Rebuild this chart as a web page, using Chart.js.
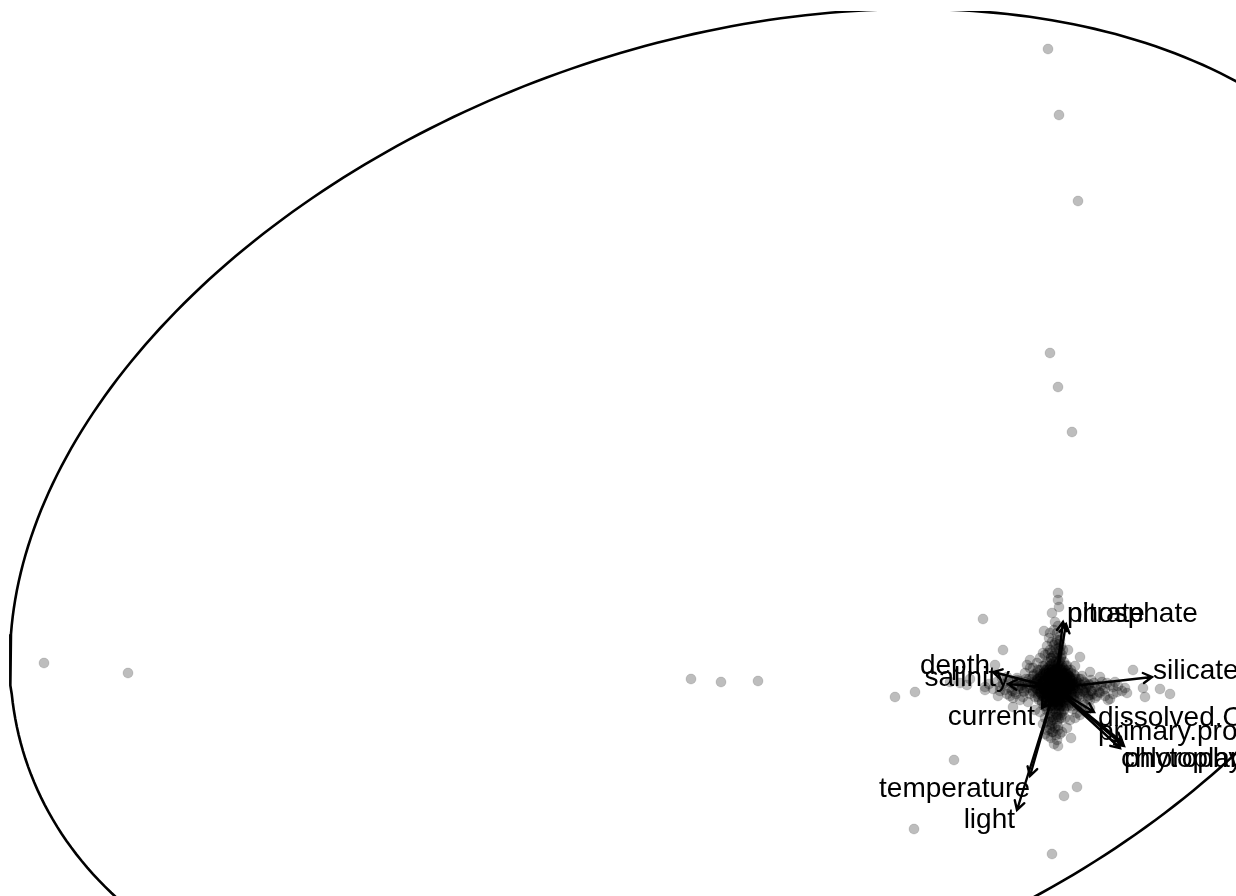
<!DOCTYPE html>
<html>
<head>
<meta charset="utf-8">
<script src="https://cdn.jsdelivr.net/npm/chart.js@4/dist/chart.umd.min.js"></script>
<style>
  html, body { margin: 0; padding: 0; background: #ffffff; }
  canvas { display: block; }
</style>
</head>
<body>
<canvas id="biplot" width="1236" height="896"></canvas>
<script>
// Visible window of the PC1 / PC2 plane
const axisPC1 = [-10.55, 1.81];
const axisPC2 = [-2.08, 6.77];

// Station scores away from the centre [PC1, PC2]
const scoresOuter = [
  [-10.11, 0.25], [-9.27, 0.15], [-3.64, 0.09], [-3.34, 0.06], [-2.97, 0.07],
  [-0.07, 6.39], [0.04, 5.73], [0.23, 4.87], [-0.05, 3.35], [0.03, 3.01], [0.17, 2.56],
  [-0.72, 0.69], [-0.52, 0.38], [-1.60, -0.09], [-1.40, -0.04], [-1.01, -0.72],
  [-1.41, -1.41], [0.09, -1.08], [0.22, -0.99], [-0.03, -1.66],
  [0.78, 0.18], [1.05, -0.01], [1.15, -0.06], [0.90, -0.09], [0.88, 0.00],
  [0.62, -0.04], [0.72, -0.05], [0.58, 0.01],
  [0.03, 0.95], [0.03, 0.88], [0.04, 0.81], [-0.03, 0.75], [-0.11, 0.57], [0.05, 0.48],
  [-0.95, 0.05], [-0.88, 0.03], [-1.05, 0.06], [-0.85, 0.09], [-0.55, 0.01], [-0.57, -0.08],
  [-0.42, -0.19], [-0.35, -0.12], [-0.28, 0.23], [-0.25, 0.20], [-0.12, 0.35], [-0.38, 0.08],
  [-0.48, 0.11], [-0.60, 0.23], [0.35, 0.16], [0.45, 0.11], [0.16, -0.50], [-0.02, -0.44],
  [0.15, -0.32], [-0.15, -0.24], [0.35, -0.12], [0.45, -0.05], [-0.70, -0.02], [0.25, 0.31],
  [0.53, -0.12]
];

// Station scores along the four arms of the central cluster
const scoresArms = [
  [0.30, -0.02], [0.34, 0.04], [0.38, -0.06], [0.42, 0.02], [0.48, -0.03], [0.52, 0.05],
  [0.40, -0.10], [0.33, -0.08],
  [-0.35, 0.02], [-0.40, -0.04], [-0.44, 0.05], [-0.50, -0.02], [-0.38, 0.10], [-0.32, -0.09],
  [-0.03, 0.36], [0.04, 0.40], [0.00, 0.45], [-0.06, 0.50], [0.02, 0.55], [0.07, 0.33], [-0.08, 0.42],
  [-0.04, -0.34], [0.03, -0.38], [-0.08, -0.42], [0.06, -0.30], [0.01, -0.47], [-0.12, -0.36], [0.12, -0.40],
  [0.27, 0.12], [0.20, 0.22], [-0.22, 0.20], [-0.30, 0.15], [0.28, -0.15], [0.22, -0.25],
  [-0.20, -0.22], [-0.27, -0.14], [0.36, 0.08], [-0.42, -0.10], [0.13, 0.38], [-0.15, 0.30],
  [0.10, -0.30], [-0.10, -0.30],
  [-0.02, 0.32], [0.03, 0.34], [-0.05, 0.38], [0.01, 0.39], [0.05, 0.37], [-0.01, 0.43],
  [0.04, 0.44], [-0.04, 0.30], [0.06, 0.31], [0.00, 0.35],
  [-0.34, 0.05], [-0.37, -0.01], [-0.41, 0.03], [-0.36, 0.07], [-0.45, 0.00], [-0.31, -0.04],
  [-0.29, 0.09], [-0.39, -0.06], [-0.33, 0.00], [-0.43, -0.03],
  [0.32, 0.02], [0.36, -0.03], [0.40, 0.01], [0.35, -0.07], [0.44, -0.04], [0.31, -0.05],
  [0.39, 0.05], [0.46, 0.02], [0.33, -0.11], [0.42, -0.08],
  [-0.02, -0.32], [0.02, -0.35], [-0.05, -0.37], [0.00, -0.40], [-0.06, -0.31], [0.04, -0.31],
  [-0.03, -0.44], [0.03, -0.42], [-0.07, -0.34], [0.01, -0.29],
  [0.22, -0.18], [0.26, -0.20], [0.18, -0.21], [0.30, -0.17],
  [0.02, 0.48], [-0.03, 0.46], [0.05, 0.52], [-0.01, 0.58], [0.03, 0.62], [-0.05, 0.55],
  [0.00, 0.66], [0.06, 0.42], [-0.07, 0.35], [0.08, 0.38],
  [-0.52, 0.04], [-0.55, -0.03], [-0.47, 0.07], [-0.58, 0.06], [-0.62, -0.01], [-0.48, -0.06],
  [-0.66, 0.04], [-0.53, 0.10], [-0.70, 0.01], [-0.45, -0.08],
  [0.50, -0.01], [0.55, 0.03], [0.58, -0.06], [0.50, -0.08], [0.63, 0.02], [0.67, -0.03],
  [0.55, -0.11], [0.70, 0.00], [0.47, 0.06], [0.60, 0.06],
  [-0.04, -0.50], [0.02, -0.52], [-0.07, -0.48], [0.05, -0.46], [-0.01, -0.56], [-0.05, -0.41],
  [0.07, -0.44], [-0.10, -0.46], [0.03, -0.58], [-0.03, -0.38],
  [0.25, -0.27], [0.31, -0.24], [0.20, -0.30], [0.35, -0.20],
  [-0.18, 0.25], [-0.25, 0.28], [-0.10, 0.33]
];

// Station scores in the dense centre
const scoresCore = [
  [-0.04, 0.30], [0.02, 0.30], [0.06, 0.30],
  [-0.08, 0.26], [-0.01, 0.26], [0.04, 0.26], [0.09, 0.26],
  [-0.12, 0.22], [-0.05, 0.22], [0.00, 0.22], [0.05, 0.22], [0.11, 0.22],
  [-0.15, 0.18], [-0.09, 0.18], [-0.03, 0.18], [0.02, 0.18], [0.07, 0.18], [0.13, 0.18],
  [-0.18, 0.15], [-0.11, 0.15], [-0.06, 0.15], [0.00, 0.15], [0.04, 0.15], [0.10, 0.15], [0.16, 0.15],
  [-0.22, 0.12], [-0.14, 0.12], [-0.08, 0.12], [-0.02, 0.12], [0.03, 0.12], [0.08, 0.12], [0.14, 0.12], [0.20, 0.12],
  [-0.26, 0.09], [-0.17, 0.09], [-0.10, 0.09], [-0.04, 0.09], [0.01, 0.09], [0.06, 0.09], [0.12, 0.09], [0.18, 0.09], [0.24, 0.09],
  [-0.30, 0.06], [-0.21, 0.06], [-0.13, 0.06], [-0.07, 0.06], [-0.01, 0.06], [0.04, 0.06], [0.09, 0.06], [0.15, 0.06], [0.22, 0.06], [0.29, 0.06],
  [-0.33, 0.03], [-0.24, 0.03], [-0.16, 0.03], [-0.09, 0.03], [-0.03, 0.03], [0.02, 0.03], [0.07, 0.03], [0.13, 0.03], [0.19, 0.03], [0.26, 0.03], [0.34, 0.03],
  [-0.28, 0.00], [-0.19, 0.00], [-0.12, 0.00], [-0.05, 0.00], [0.00, 0.00], [0.05, 0.00], [0.11, 0.00], [0.17, 0.00], [0.23, 0.00], [0.31, 0.00],
  [-0.31, -0.03], [-0.22, -0.03], [-0.14, -0.03], [-0.08, -0.03], [-0.02, -0.03], [0.03, -0.03], [0.08, -0.03], [0.14, -0.03], [0.21, -0.03], [0.28, -0.03], [0.37, -0.03],
  [-0.25, -0.06], [-0.17, -0.06], [-0.10, -0.06], [-0.04, -0.06], [0.01, -0.06], [0.06, -0.06], [0.12, -0.06], [0.19, -0.06], [0.25, -0.06],
  [-0.20, -0.09], [-0.12, -0.09], [-0.06, -0.09], [0.00, -0.09], [0.04, -0.09], [0.10, -0.09], [0.16, -0.09], [0.22, -0.09],
  [-0.16, -0.12], [-0.09, -0.12], [-0.03, -0.12], [0.02, -0.12], [0.07, -0.12], [0.13, -0.12], [0.19, -0.12],
  [-0.13, -0.15], [-0.06, -0.15], [-0.01, -0.15], [0.05, -0.15], [0.10, -0.15], [0.16, -0.15],
  [-0.09, -0.18], [-0.03, -0.18], [0.03, -0.18], [0.08, -0.18], [0.13, -0.18],
  [-0.07, -0.21], [-0.01, -0.21], [0.04, -0.21], [0.09, -0.21],
  [-0.05, -0.25], [0.01, -0.25], [0.06, -0.25],
  [-0.03, -0.29], [0.03, -0.29],
  [-0.03, 0.24], [0.03, 0.24],
  [-0.07, 0.20], [-0.02, 0.20], [0.03, 0.20], [0.08, 0.20],
  [-0.10, 0.165], [-0.04, 0.165], [0.01, 0.165], [0.06, 0.165], [0.11, 0.165],
  [-0.12, 0.135], [-0.05, 0.135], [0.01, 0.135], [0.05, 0.135], [0.12, 0.135],
  [-0.15, 0.105], [-0.07, 0.105], [-0.01, 0.105], [0.04, 0.105], [0.09, 0.105], [0.15, 0.105],
  [-0.18, 0.075], [-0.11, 0.075], [-0.05, 0.075], [0.00, 0.075], [0.05, 0.075], [0.11, 0.075], [0.17, 0.075],
  [-0.20, 0.045], [-0.12, 0.045], [-0.06, 0.045], [-0.01, 0.045], [0.04, 0.045], [0.10, 0.045], [0.16, 0.045], [0.21, 0.045],
  [-0.21, 0.015], [-0.14, 0.015], [-0.07, 0.015], [-0.02, 0.015], [0.03, 0.015], [0.09, 0.015], [0.15, 0.015], [0.20, 0.015],
  [-0.18, -0.015], [-0.11, -0.015], [-0.05, -0.015], [0.01, -0.015], [0.06, -0.015], [0.12, -0.015], [0.18, -0.015],
  [-0.15, -0.045], [-0.08, -0.045], [-0.02, -0.045], [0.03, -0.045], [0.09, -0.045], [0.15, -0.045],
  [-0.13, -0.075], [-0.07, -0.075], [-0.01, -0.075], [0.05, -0.075], [0.11, -0.075],
  [-0.09, -0.105], [-0.03, -0.105], [0.02, -0.105], [0.07, -0.105],
  [-0.06, -0.135], [0.00, -0.135], [0.05, -0.135],
  [-0.02, -0.17], [0.03, -0.17],
  [-0.05, 0.27], [0.01, 0.27], [0.05, 0.27],
  [-0.10, 0.225], [-0.04, 0.225], [0.02, 0.225], [0.07, 0.225], [0.12, 0.225],
  [-0.17, 0.18], [-0.11, 0.18], [-0.06, 0.18], [0.00, 0.18], [0.05, 0.18], [0.10, 0.18], [0.16, 0.18],
  [-0.21, 0.135], [-0.15, 0.135], [-0.09, 0.135], [-0.03, 0.135], [0.02, 0.135], [0.08, 0.135], [0.13, 0.135], [0.19, 0.135],
  [-0.23, 0.09], [-0.18, 0.09], [-0.12, 0.09], [-0.06, 0.09], [-0.01, 0.09], [0.04, 0.09], [0.09, 0.09], [0.15, 0.09], [0.21, 0.09], [0.26, 0.09],
  [-0.27, 0.045], [-0.20, 0.045], [-0.14, 0.045], [-0.08, 0.045], [-0.03, 0.045], [0.02, 0.045], [0.07, 0.045], [0.12, 0.045], [0.18, 0.045], [0.24, 0.045], [0.30, 0.045],
  [-0.25, 0.00], [-0.16, 0.00], [-0.09, 0.00], [-0.04, 0.00], [0.02, 0.00], [0.08, 0.00], [0.14, 0.00], [0.20, 0.00], [0.27, 0.00],
  [-0.22, -0.045], [-0.15, -0.045], [-0.11, -0.045], [-0.05, -0.045], [0.00, -0.045], [0.05, -0.045], [0.11, -0.045], [0.17, -0.045], [0.23, -0.045], [0.29, -0.045],
  [-0.17, -0.09], [-0.10, -0.09], [-0.03, -0.09], [0.02, -0.09], [0.07, -0.09], [0.13, -0.09], [0.19, -0.09], [0.25, -0.09],
  [-0.13, -0.135], [-0.07, -0.135], [-0.02, -0.135], [0.04, -0.135], [0.09, -0.135], [0.15, -0.135], [0.21, -0.135],
  [-0.11, -0.18], [-0.05, -0.18], [0.00, -0.18], [0.06, -0.18], [0.11, -0.18], [0.17, -0.18],
  [-0.08, -0.225], [-0.02, -0.225], [0.04, -0.225], [0.09, -0.225],
  [-0.04, -0.27], [0.02, -0.27], [0.07, -0.27],
  [-0.05, 0.19], [0.01, 0.19], [0.06, 0.19],
  [-0.09, 0.15], [-0.03, 0.15], [0.03, 0.15], [0.08, 0.15], [0.13, 0.15],
  [-0.12, 0.11], [-0.06, 0.11], [0.00, 0.11], [0.05, 0.11], [0.10, 0.11], [0.15, 0.11],
  [-0.16, 0.07], [-0.10, 0.07], [-0.04, 0.07], [0.01, 0.07], [0.07, 0.07], [0.12, 0.07], [0.17, 0.07],
  [-0.18, 0.03], [-0.12, 0.03], [-0.06, 0.03], [0.00, 0.03], [0.05, 0.03], [0.10, 0.03], [0.16, 0.03], [0.21, 0.03],
  [-0.17, -0.01], [-0.11, -0.01], [-0.05, -0.01], [0.01, -0.01], [0.06, -0.01], [0.12, -0.01], [0.18, -0.01],
  [-0.14, -0.05], [-0.08, -0.05], [-0.02, -0.05], [0.04, -0.05], [0.10, -0.05], [0.16, -0.05],
  [-0.11, -0.09], [-0.05, -0.09], [0.01, -0.09], [0.06, -0.09], [0.12, -0.09],
  [-0.08, -0.13], [-0.02, -0.13], [0.03, -0.13], [0.08, -0.13],
  [-0.04, -0.17], [0.02, -0.17], [0.06, -0.17]
];

// Variable loadings: arrow tips in the same plane
const variableNames = ['nitrate', 'phosphate', 'silicate', 'depth', 'salinity', 'current',
  'temperature', 'light', 'dissolved.O2', 'primary.production', 'phytoplankton', 'chlorophyll'];
const loadingPC1 = [0.08, 0.11, 0.97, -0.62, -0.47, -0.13, -0.25, -0.38, 0.39, 0.67, 0.69, 0.65];
const loadingPC2 = [0.66, 0.64, 0.11, 0.16, 0.04, -0.20, -0.88, -1.22, -0.24, -0.54, -0.58, -0.60];

// Where each variable name sits, and which side of it the anchor is on
const labelPC1 = [0.12, 0.12, 0.98, -0.65, -0.45, -0.20, -0.25, -0.40, 0.43, 0.43, 0.69, 0.66];
const labelPC2 = [0.74, 0.74, 0.17, 0.22, 0.10, -0.29, -1.01, -1.32, -0.30, -0.44, -0.71, -0.71];
const labelAlign = ['left', 'left', 'left', 'right', 'right', 'right', 'right', 'right', 'left', 'left', 'left', 'left'];

// Normal-data ellipse of the scores
const ellipseCentre = [-3.36, 1.684];
const ellipseHalfWidth = 7.09;
const ellipseHalfHeight = 5.106;
const ellipseCorrelation = 0.275;

const toPoint = p => ({ x: p[0], y: p[1] });

const ellipsePath = [];
for (let i = 0; i <= 360; i++) {
  const t = (i / 360) * 2 * Math.PI;
  const r = ellipseCorrelation;
  ellipsePath.push({
    x: ellipseCentre[0] + ellipseHalfWidth * Math.cos(t),
    y: ellipseCentre[1] + ellipseHalfHeight * (r * Math.cos(t) + Math.sqrt(1 - r * r) * Math.sin(t))
  });
}

const pointStyle = {
  type: 'scatter',
  pointRadius: 5,
  pointHoverRadius: 5,
  pointBackgroundColor: 'rgba(0,0,0,0.26)',
  pointBorderColor: 'rgba(0,0,0,0.12)',
  pointBorderWidth: 1,
  clip: 0
};

// Loading arrows and variable names
const loadingsPlugin = {
  id: 'loadings',
  afterDatasetsDraw(chart) {
    const ctx = chart.ctx;
    const xs = chart.scales.x, ys = chart.scales.y;
    const ox = xs.getPixelForValue(0), oy = ys.getPixelForValue(0);
    ctx.save();
    ctx.strokeStyle = '#000';
    ctx.lineWidth = 2.4;
    ctx.lineCap = 'round';
    for (let i = 0; i < variableNames.length; i++) {
      const tx = xs.getPixelForValue(loadingPC1[i]);
      const ty = ys.getPixelForValue(loadingPC2[i]);
      const ang = Math.atan2(ty - oy, tx - ox);
      const head = 10, spread = Math.PI / 6;
      ctx.beginPath();
      ctx.moveTo(ox, oy);
      ctx.lineTo(tx, ty);
      ctx.moveTo(tx - head * Math.cos(ang - spread), ty - head * Math.sin(ang - spread));
      ctx.lineTo(tx, ty);
      ctx.lineTo(tx - head * Math.cos(ang + spread), ty - head * Math.sin(ang + spread));
      ctx.stroke();
    }
    ctx.fillStyle = '#000';
    ctx.font = '28px "Liberation Sans", Arial, sans-serif';
    ctx.textBaseline = 'middle';
    for (let i = 0; i < variableNames.length; i++) {
      ctx.textAlign = labelAlign[i];
      ctx.fillText(variableNames[i], xs.getPixelForValue(labelPC1[i]), ys.getPixelForValue(labelPC2[i]));
    }
    ctx.restore();
  }
};

const whiteBackground = {
  id: 'whiteBackground',
  beforeDraw(chart) {
    const c = chart.ctx;
    c.save();
    c.fillStyle = '#fff';
    c.fillRect(0, 0, chart.width, chart.height);
    c.restore();
  }
};

new Chart(document.getElementById('biplot'), {
  type: 'scatter',
  data: {
    datasets: [
      {
        label: 'ellipse',
        type: 'line',
        data: ellipsePath,
        borderColor: '#000',
        borderWidth: 2.6,
        pointRadius: 0,
        fill: false,
        tension: 0,
        clip: 0,
        order: 3
      },
      Object.assign({ label: 'outer', data: scoresOuter.map(toPoint), order: 2 }, pointStyle),
      Object.assign({ label: 'arms', data: scoresArms.map(toPoint), order: 1 }, pointStyle),
      Object.assign({ label: 'core', data: scoresCore.map(toPoint), order: 0 }, pointStyle)
    ]
  },
  options: {
    responsive: false,
    animation: false,
    events: [],
    layout: { autoPadding: false, padding: { top: 11, left: 0, right: 0, bottom: 0 } },
    plugins: { legend: { display: false }, tooltip: { enabled: false } },
    scales: {
      x: { type: 'linear', display: false, min: axisPC1[0], max: axisPC1[1] },
      y: { type: 'linear', display: false, min: axisPC2[0], max: axisPC2[1] }
    }
  },
  plugins: [whiteBackground, loadingsPlugin]
});
</script>
</body>
</html>
